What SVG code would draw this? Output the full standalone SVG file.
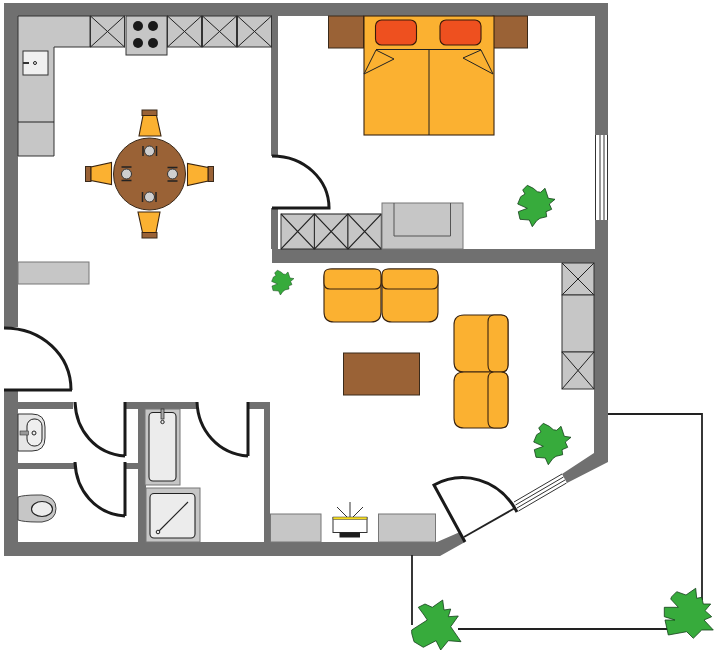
<svg xmlns="http://www.w3.org/2000/svg" xmlns:xlink="http://www.w3.org/1999/xlink" width="720" height="657" viewBox="0 0 720 657">
<style>
.wall{fill:#707070}
.unit{fill:#c6c6c6;stroke:#333;stroke-width:1}
.soft{fill:#c6c6c6;stroke:#777;stroke-width:1}
.x{fill:none;stroke:#222;stroke-width:1}
.door{fill:none;stroke:#1a1a1a;stroke-width:3}
.thin{fill:none;stroke:#222;stroke-width:1.8}
.win{fill:none;stroke:#333;stroke-width:1}
.wood{fill:#9a6236;stroke:#3a2a1a;stroke-width:1}
.seat{fill:#fbb131;stroke:#3a2410;stroke-width:1.1}
.pillow{fill:#ee501f;stroke:#3a1a0a;stroke-width:1.1}
.ware{fill:#ececec;stroke:#222;stroke-width:1.1}
.plant{fill:#37ab3c;stroke:#14401a;stroke-width:.8}
</style>
<defs>
<path id="plantShape" d="M-7.7-19.7-1.7-16.7 2.3-13.3 5.7-12.7 10-16.7 13.3-6.7 20-5.7 14.3-1 16.7 4.3 11 6.7 11.7 11.7 5 13.3 1.7 15.7-2.7 21.7-5.7 15-15 14.3-16.7 6.7-7.7 3.3-17.3-1-14.3-8.3-10-11-12.3-15Z"/>
<g id="xcab"><rect class="unit" width="34" height="31"/><path class="x" d="M0 0 34 31M34 0 0 31"/></g>
<g id="chair"><rect class="wood" x="142" y="110" width="15" height="5.5"/><path class="seat" d="M143 115.500H156.500L161 136H139Z"/></g>
<g id="place"><circle cx="149.500" cy="151" r="5" fill="#cfcfcf" stroke="#333"/><path d="M143 146V156M156.500 146V156" stroke="#222" stroke-width="1.5" fill="none"/></g>
</defs>
<rect width="720" height="657" fill="#fff"/>

<g id="walls">
<path class="wall" d="M4 3H608V135H595V16H278V156H271V16H18V327H4Z"/>
<path class="wall" d="M595 220H608V462L567 483 562 474 594 453V263H272V249H271V208H278V249H595Z"/>
<path class="wall" d="M4 390H18V402H73V409H18V463H75V469H18V542H138V409H125V402H197V409H146V542H264V409H248V402H270V542H437L460 532 465 542 440 556H4Z"/>
<rect class="wall" x="125" y="463" width="13" height="6"/>
</g>

<g id="kitchen">
<path class="unit" d="M18 16H90V47H54V156H18Z"/>
<path class="x" d="M18 122H54"/>
<rect x="23" y="51" width="25" height="24" fill="#f0f0f0" stroke="#333"/>
<rect x="23" y="62" width="6" height="2" fill="#333"/>
<circle cx="35" cy="63" r="1.500" fill="#f0f0f0" stroke="#222"/>
<use xlink:href="#xcab" href="#xcab" x="90.500" y="16"/>
<rect class="unit" x="126" y="16" width="41" height="39"/>
<g fill="#1a1a1a"><circle cx="138" cy="26" r="5"/><circle cx="153" cy="26" r="5"/><circle cx="138" cy="43" r="5"/><circle cx="153" cy="43" r="5"/></g>
<use xlink:href="#xcab" href="#xcab" x="167.500" y="16"/>
<use xlink:href="#xcab" href="#xcab" x="202.500" y="16"/>
<use xlink:href="#xcab" href="#xcab" x="237.500" y="16"/>
</g>

<g id="dining-table">
<use xlink:href="#chair" href="#chair"/>
<use xlink:href="#chair" href="#chair" transform="rotate(90 149.500 174)"/>
<use xlink:href="#chair" href="#chair" transform="rotate(180 149.500 174)"/>
<use xlink:href="#chair" href="#chair" transform="rotate(270 149.500 174)"/>
<circle class="wood" cx="149.500" cy="174" r="36"/>
<use xlink:href="#place" href="#place"/>
<use xlink:href="#place" href="#place" transform="rotate(90 149.500 174)"/>
<use xlink:href="#place" href="#place" transform="rotate(180 149.500 174)"/>
<use xlink:href="#place" href="#place" transform="rotate(270 149.500 174)"/>
</g>

<g id="shelf"><rect class="soft" x="18" y="262" width="71" height="22"/></g>

<g id="bed">
<rect class="wood" x="328.500" y="16" width="35" height="32" stroke="none"/>
<rect class="wood" x="493" y="16" width="34.500" height="32" stroke="none"/>
<rect class="seat" x="364" y="16" width="130" height="119"/>
<rect class="pillow" x="375.500" y="20" width="41" height="25" rx="6"/>
<rect class="pillow" x="440" y="20" width="41" height="25" rx="6"/>
<path class="x" d="M376 49.500H481M429 49.500V135M376 50 394 59 364 74ZM481 50 463 58 493 74Z"/>
</g>

<g id="bedroom-storage">
<use xlink:href="#xcab" href="#xcab" transform="translate(281 214) scale(.98 1.13)"/>
<use xlink:href="#xcab" href="#xcab" transform="translate(314.500 214) scale(.98 1.13)"/>
<use xlink:href="#xcab" href="#xcab" transform="translate(348 214) scale(.98 1.13)"/>
<rect class="soft" x="382" y="203" width="81" height="46"/>
<path d="M394 203V236H450.500V203" fill="none" stroke="#555" stroke-width="1"/>
</g>

<g id="sofa-top">
<path class="seat" d="M332 269H373Q381 269 381 277V312Q381 322 371 322H334Q324 322 324 312V277Q324 269 332 269Z"/>
<path class="seat" d="M390 269H431Q438 269 438 277V312Q438 322 428 322H392Q382 322 382 312V277Q382 269 390 269Z"/>
<path class="seat" d="M330 269H375Q381 269 381 275V283Q381 289 375 289H330Q324 289 324 283V275Q324 269 330 269Z"/>
<path class="seat" d="M388 269H432Q438 269 438 275V283Q438 289 432 289H388Q382 289 382 283V275Q382 269 388 269Z"/>
</g>

<g id="sofa-right">
<path class="seat" d="M464 315H501Q508 315 508 322V365Q508 372 501 372H464Q454 372 454 362V325Q454 315 464 315Z"/>
<path class="seat" d="M464 372H501Q508 372 508 379V421Q508 428 501 428H464Q454 428 454 418V382Q454 372 464 372Z"/>
<path class="seat" d="M494 315H501Q508 315 508 322V365Q508 372 501 372H494Q488 372 488 365V322Q488 315 494 315Z"/>
<path class="seat" d="M494 372H501Q508 372 508 379V421Q508 428 501 428H494Q488 428 488 421V379Q488 372 494 372Z"/>
</g>

<g id="coffee-table"><rect class="wood" x="343.500" y="353" width="76" height="42" stroke="#555"/></g>

<g id="living-storage">
<rect class="unit" x="562" y="263" width="32" height="32"/><path class="x" d="M562 263 594 295M594 263 562 295"/>
<rect class="unit" x="562" y="295" width="32" height="57"/>
<rect class="unit" x="562" y="352" width="32" height="37"/><path class="x" d="M562 352 594 389M594 352 562 389"/>
<rect class="soft" x="270.500" y="514" width="50.500" height="28"/>
<rect class="soft" x="378.500" y="514" width="57" height="28"/>
</g>

<g id="tv">
<path d="M350 517V502M347 517 337 507M353 517 363 507" stroke="#333" stroke-width="1" fill="none"/>
<rect x="333" y="517.500" width="34" height="15" fill="#fff" stroke="#333"/>
<rect x="333" y="517" width="34" height="2.500" fill="#f5dc20" stroke="#333" stroke-width=".5"/>
<rect x="339.500" y="532.500" width="20.500" height="5" fill="#1e1e1e"/>
</g>

<g id="bath">
<rect class="soft" x="145" y="409" width="35" height="76"/>
<rect class="ware" x="149" y="412.500" width="27" height="68.500" rx="4"/>
<rect x="161" y="409" width="3" height="10" fill="#aaa" stroke="#222" stroke-width=".7"/>
<circle cx="162.500" cy="422" r="1.700" fill="#ececec" stroke="#222"/>
<rect class="soft" x="146" y="488" width="54" height="54"/>
<rect class="ware" x="150" y="493.500" width="45" height="44.500" rx="4"/>
<path d="M158 532 188 502" stroke="#222" stroke-width="1.100"/>
<circle cx="158" cy="532" r="1.800" fill="#ececec" stroke="#222"/>
</g>

<g id="washbasin">
<path d="M18 414H32Q45 414 45 427V438Q45 451 32 451H18Z" fill="#e6e6e6" stroke="#333"/>
<rect x="27" y="419" width="15" height="27" rx="7" fill="#efefef" stroke="#222"/>
<rect x="20" y="431" width="8.500" height="4" fill="#999" stroke="#333" stroke-width=".6"/>
<circle cx="34" cy="433" r="2" fill="#efefef" stroke="#222"/>
</g>

<g id="toilet">
<path d="M18 497Q24 495 37 495H42Q56 497 56 508.500Q56 520 42 522H37Q24 522 18 520Z" fill="#c6c6c6" stroke="#444"/>
<ellipse cx="42" cy="509" rx="10.500" ry="7.500" fill="#ececec" stroke="#222" stroke-width="1.100"/>
</g>

<g id="windows" class="win">
<path d="M595.500 135V220M600 135V220M604 135V220M607.500 135V220"/>
<path d="M514 502 562 474M515.500 505 563.500 477M517 508 565 480M518.500 511 566.500 483"/>
</g>

<g id="connectors">
<path class="door" d="M272 156C305 156 329 180 329 208M272 208H330.500"/>
<path class="door" d="M4 328C42 328 71 355 71 390M4 390H72"/>
<path class="door" d="M75 402C76 430 95 454 125 456M125 402V456"/>
<path class="door" d="M75 462C76 490 95 514 125 516M125 462V516"/>
<path class="door" d="M197 402C198 430 218 454 248 456M248 402V456"/>
<path class="door" d="M465 542 434 485C462 470 499 478 517 512"/>
<path class="thin" d="M464 537 515 508"/>
<path class="thin" d="M608 414H702V600M412 555V625M458 629H668"/>
</g>

<g id="plants">
<use xlink:href="#plantShape" href="#plantShape" class="plant" transform="translate(535 205)"/>
<use xlink:href="#plantShape" href="#plantShape" class="plant" transform="translate(282 282) scale(.6)"/>
<use xlink:href="#plantShape" href="#plantShape" class="plant" transform="translate(551 443)"/>
<path class="plant" d="M418.300 607.300 425 604 432.300 607.300 442.700 600 444 610 450.700 609 448.300 616.700 458.300 616 450.700 626.700 461 641.700 448.300 640.700 440.700 650 436 640.700 423.300 647.300 414 641.700 411.700 633.300 411.700 630 427.300 620 424 615Z"/>
<path class="plant" d="M671.700 596.700 676.700 591.700 686 595 695.700 588.300 696.700 598.300 701.700 597.300 703.300 604 710.700 604 705 610.700 711.700 616.700 704 620 713.300 630 701.700 630 693.300 638.300 686.700 631.700 668.300 635 665 620 675 620 664.300 616.700 664.300 607.300 678.300 607.300 670.700 599Z"/>
</g>
</svg>
